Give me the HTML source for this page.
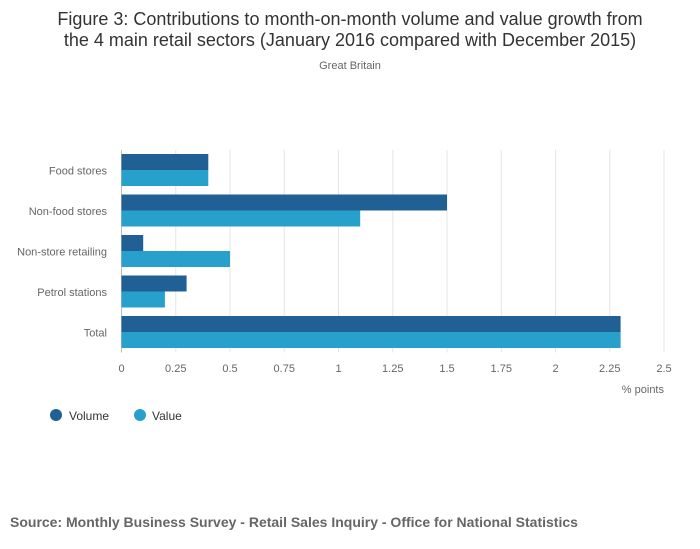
<!DOCTYPE html>
<html><head><meta charset="utf-8">
<style>
body{margin:0;background:#fff;font-family:"Liberation Sans",sans-serif;}
#wrap{position:relative;width:700px;height:549px;overflow:hidden;}
</style></head>
<body>
<div id="wrap">
<svg id="chart" width="700" height="549" xmlns="http://www.w3.org/2000/svg">
<text x="350" y="25" text-anchor="middle" font-size="18" fill="#333">Figure 3: Contributions to month-on-month volume and value growth from</text>
<text x="350" y="46" text-anchor="middle" font-size="18" fill="#333">the 4 main retail sectors (January 2016 compared with December 2015)</text>
<text x="350" y="69" text-anchor="middle" font-size="11" fill="#666">Great Britain</text>
<g id="grid"></g>
<g id="bars"></g>
<g id="ylabels"></g>
<g id="xlabels"></g>
<text x="664" y="393" text-anchor="end" font-size="11" fill="#666">% points</text>
<g>
<circle cx="56" cy="415" r="6" fill="#206095"/>
<text x="69" y="420" font-size="12" fill="#333">Volume</text>
<circle cx="140" cy="415" r="6" fill="#27a0cc"/>
<text x="152" y="420" font-size="12" fill="#333">Value</text>
</g>
<text x="10" y="527" font-size="14" font-weight="bold" fill="#666">Source: Monthly Business Survey - Retail Sales Inquiry - Office for National Statistics</text>
</svg>
</div>
<script>
const categories = ["Food stores","Non-food stores","Non-store retailing","Petrol stations","Total"];
const volume = [0.4,1.5,0.1,0.3,2.3];
const value = [0.4,1.1,0.5,0.2,2.3];
const ticks = [0,0.25,0.5,0.75,1,1.25,1.5,1.75,2,2.25,2.5];
const tickLabels = ["0","0.25","0.5","0.75","1","1.25","1.5","1.75","2","2.25","2.5"];

const NS="http://www.w3.org/2000/svg";
const x0=121.5, x1=664, plotTop=150, bandH=40.5;
function xs(v){return x0+(v/2.5)*(x1-x0);}
function yb(i){return plotTop+i*bandH;}
function mk(t,a){const e=document.createElementNS(NS,t);for(const k in a)e.setAttribute(k,a[k]);return e;}
const grid=document.getElementById('grid'),bars=document.getElementById('bars'),yl=document.getElementById('ylabels'),xl=document.getElementById('xlabels');
ticks.forEach((t,i)=>{
  const l=mk('line',{x1:xs(t),x2:xs(t),y1:plotTop,y2:plotTop+5*bandH,stroke:i===0?'#bbb':'#e6e6e6','stroke-width':1});
  
  
  grid.appendChild(l);
  const tx=mk('text',{x:xs(t),y:372,'text-anchor':'middle','font-size':11,fill:'#666'});
  tx.textContent=tickLabels[i];
  
  
  xl.appendChild(tx);
});
categories.forEach((c,i)=>{
  const y=yb(i)+4;
  const r1=mk('rect',{x:xs(0),y:y,width:xs(volume[i])-xs(0),height:16,fill:'#206095'});
  
  
  bars.appendChild(r1);
  const r2=mk('rect',{x:xs(0),y:y+16,width:xs(value[i])-xs(0),height:16,fill:'#27a0cc'});
  
  
  bars.appendChild(r2);
  const tx=mk('text',{x:107,y:yb(i)+bandH/2+4,'text-anchor':'end','font-size':11,fill:'#666'});
  tx.textContent=c;
  
  
  yl.appendChild(tx);
});
</script>
</body></html>
